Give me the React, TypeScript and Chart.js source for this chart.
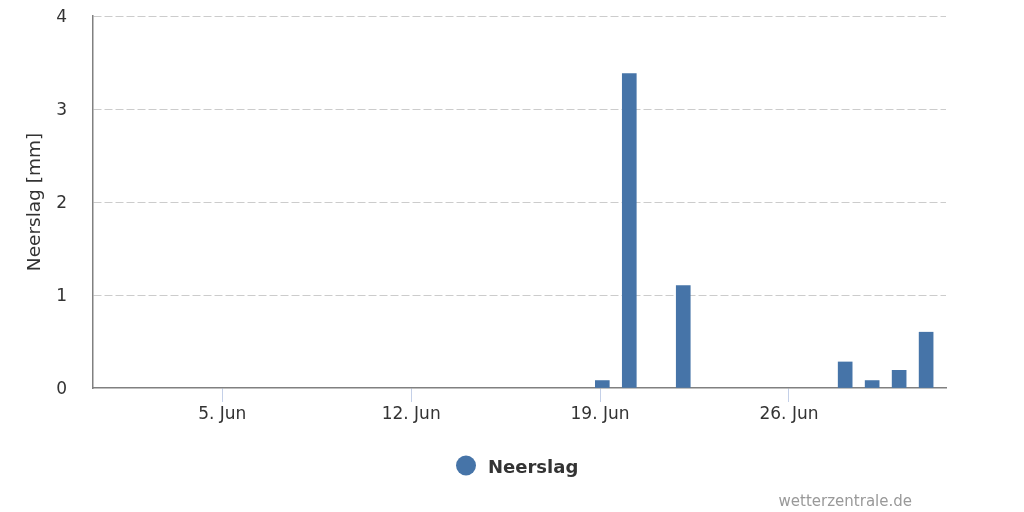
import React, { useEffect, useRef } from "react";
import { Chart, registerables } from "chart.js";

Chart.register(...registerables);

// Day of month (31 = 1 Jul), precipitation in mm
const days = [1, 2, 3, 4, 5, 6, 7, 8, 9, 10, 11, 12, 13, 14, 15, 16, 17, 18, 19, 20, 21, 22, 23, 24, 25, 26, 27, 28, 29, 30, 31];
const neerslag = [0, 0, 0, 0, 0, 0, 0, 0, 0, 0, 0, 0, 0, 0, 0, 0, 0, 0, 0.08, 3.38, 0, 1.1, 0, 0, 0, 0, 0, 0.28, 0.08, 0.19, 0.6];

const tickDays = [5, 12, 19, 26];
const tickLabels = ["5. Jun", "12. Jun", "19. Jun", "26. Jun"];
const yTicks = [0, 1, 2, 3, 4];

const seriesName = "Neerslag";
const yTitle = "Neerslag [mm]";
const credits = "wetterzentrale.de";

// data timestamps are UTC midnight, axis ticks are local midnight (UTC+2)
const TZ_SHIFT = 2 / 24;

const BAR_COLOR = "#4674a8";
const FONT = "'DejaVu Sans', sans-serif";

const legendPlugin = {
  id: "customLegend",
  afterDraw(chart: any) {
    const ctx = chart.ctx;
    ctx.save();
    ctx.fillStyle = BAR_COLOR;
    ctx.beginPath();
    ctx.arc(466, 465.5, 10, 0, Math.PI * 2);
    ctx.fill();
    ctx.fillStyle = "#333333";
    ctx.font = "bold 18px " + FONT;
    ctx.textAlign = "left";
    ctx.textBaseline = "alphabetic";
    ctx.fillText(seriesName, 488, 472.5);
    ctx.fillStyle = "#999999";
    ctx.font = "15px " + FONT;
    ctx.textAlign = "right";
    ctx.fillText(credits, 912, 506);
    ctx.restore();
  },
};

export default function App() {
  const canvasRef = useRef<HTMLCanvasElement | null>(null);

  useEffect(() => {
    if (!canvasRef.current) return;
    const points = days
      .map((d, i) => ({ x: d + TZ_SHIFT, y: neerslag[i] }))
      .filter((p) => p.y > 0);
    const chart = new Chart(canvasRef.current, {
      type: "bar",
      data: {
        datasets: [
          {
            label: seriesName,
            data: points,
            backgroundColor: BAR_COLOR,
            borderWidth: 0,
            barThickness: 14,
          } as any,
        ],
      },
      plugins: [legendPlugin],
      options: {
        animation: false,
        responsive: false,
        maintainAspectRatio: false,
        layout: { padding: { left: 0, right: 78, top: 16, bottom: 0 } },
        plugins: {
          legend: { display: false },
          tooltip: { enabled: false },
          title: { display: false },
        },
        scales: {
          x: {
            type: "linear",
            offset: false,
            min: 0.21,
            max: 31.82,
            afterBuildTicks: (scale: any) => {
              scale.ticks = tickDays.map((v) => ({ value: v }));
            },
            afterFit: (scale: any) => {
              scale.height = 124;
              scale.paddingLeft = 0;
              scale.paddingRight = 0;
            },
            ticks: {
              autoSkip: false,
              maxRotation: 0,
              padding: 2,
              color: "#333333",
              font: { family: FONT, size: 17 },
              callback: (value: any) => {
                const idx = tickDays.indexOf(Number(value));
                return idx >= 0 ? tickLabels[idx] : "";
              },
            },
            grid: {
              display: true,
              offset: false,
              drawOnChartArea: false,
              drawTicks: true,
              tickLength: 14,
              tickColor: "#c4d0e8",
              tickWidth: 1,
            },
            border: { display: true, color: "#808080", width: 1.5 },
          },
          y: {
            type: "linear",
            min: 0,
            max: 4,
            afterBuildTicks: (scale: any) => {
              scale.ticks = yTicks.map((v) => ({ value: v }));
            },
            afterFit: (scale: any) => {
              scale.width = 93;
              scale.paddingTop = 0;
              scale.paddingBottom = 0;
            },
            ticks: {
              padding: 26,
              labelOffset: 2,
              color: "#333333",
              font: { family: FONT, size: 17 },
            },
            grid: {
              drawTicks: false,
              color: (c: any) => (c.tick && c.tick.value === 0 ? "rgba(0,0,0,0)" : "#cccccc"),
              lineWidth: 1,
            },
            border: { display: true, color: "#808080", width: 1.5, dash: [8, 3] },
            title: {
              display: true,
              text: yTitle,
              color: "#333333",
              font: { family: FONT, size: 18.5 },
              padding: { top: 24, bottom: 0 },
            },
          },
        },
      } as any,
    });
    return () => chart.destroy();
  }, []);

  return (
    <div style={{ position: "absolute", left: 0, top: 0, width: 1024, height: 512, background: "#ffffff" }}>
      <canvas ref={canvasRef} width={1024} height={512} style={{ display: "block" }} />
    </div>
  );
}
